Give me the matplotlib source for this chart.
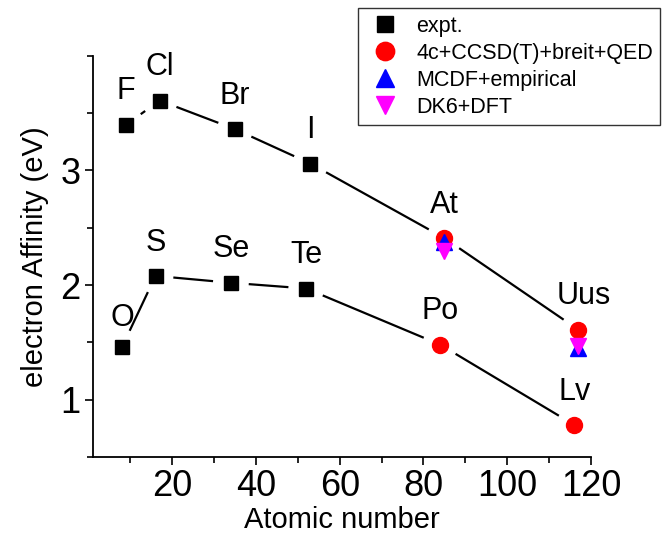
import numpy as np
import matplotlib.pyplot as plt
from matplotlib.ticker import MultipleLocator

plt.rcParams['font.family'] = ['Liberation Sans', 'DejaVu Sans']

# halogens (group 17)
hal_names = ['F', 'Cl', 'Br', 'I', 'At', 'Uus']
hal_z = [9, 17, 35, 53, 85, 117]
hal_ea = [3.40, 3.61, 3.36, 3.06, 2.41, 1.61]

# chalcogens (group 16)
chal_names = ['O', 'S', 'Se', 'Te', 'Po', 'Lv']
chal_z = [8, 16, 34, 52, 84, 116]
chal_ea = [1.46, 2.08, 2.02, 1.97, 1.48, 0.78]

# expt. points
expt_z = [9, 17, 35, 53, 8, 16, 34, 52]
expt_ea = [3.40, 3.61, 3.36, 3.06, 1.46, 2.08, 2.02, 1.97]

# 4c+CCSD(T)+breit+QED
cc_z = [85, 117, 84, 116]
cc_ea = [2.41, 1.61, 1.48, 0.78]

# MCDF+empirical
mcdf_z = [85, 117]
mcdf_ea = [2.38, 1.45]

# DK6+DFT
dk_z = [85, 117]
dk_ea = [2.30, 1.47]

fig = plt.figure(figsize=(6.67, 5.37), dpi=100)
ax = fig.add_axes([0.139, 0.149, 0.747, 0.747])
ax.set_xlim(1, 120)
ax.set_ylim(0.5, 4.0)

# connecting lines with a gap around each symbol (Origin style)
gap = 19  # pixels
fig.canvas.draw()
for zs, eas in [(hal_z, hal_ea), (chal_z, chal_ea)]:
    pts = ax.transData.transform(np.column_stack([zs, eas]))
    for p1, p2 in zip(pts[:-1], pts[1:]):
        d = p2 - p1
        L = np.hypot(*d)
        a = p1 + d * gap / L
        b = p2 - d * gap / L
        seg = ax.transData.inverted().transform(np.array([a, b]))
        ax.plot(seg[:, 0], seg[:, 1], color='black', lw=1.6, zorder=1)

ax.plot(expt_z, expt_ea, 's', color='black', ms=10, ls='none', label='expt.', zorder=3)
ax.plot(cc_z, cc_ea, 'o', color='red', ms=11.5, ls='none', label='4c+CCSD(T)+breit+QED', zorder=3)
ax.plot(mcdf_z, mcdf_ea, '^', color='blue', ms=11, ls='none', label='MCDF+empirical', zorder=4)
ax.plot(dk_z, dk_ea, 'v', color='magenta', ms=11, ls='none', label='DK6+DFT', zorder=5)

# element labels above each point
for names, zs, eas in [(hal_names, hal_z, hal_ea), (chal_names, chal_z, chal_ea)]:
    for nm, z, ea in zip(names, zs, eas):
        dx = 4 if nm == 'Uus' else 0
        dy = 21 if nm == 'O' else 24
        ax.annotate(nm, (z, ea), xytext=(dx, dy), textcoords='offset points',
                    ha='center', va='center', fontsize=22)

ax.spines['top'].set_visible(False)
ax.spines['right'].set_visible(False)
ax.spines['left'].set_linewidth(1.3)
ax.spines['bottom'].set_linewidth(1.3)

ax.xaxis.set_major_locator(MultipleLocator(20))
ax.xaxis.set_minor_locator(MultipleLocator(10))
ax.yaxis.set_minor_locator(MultipleLocator(0.5))
ax.set_xticks([20, 40, 60, 80, 100, 120])
ax.set_yticks([1, 2, 3])
ax.tick_params(which='major', length=6, width=1.2, labelsize=26, direction='out', pad=3)
ax.tick_params(which='minor', length=4, width=1.2, direction='out')

ax.set_xlabel('Atomic number', fontsize=21, labelpad=1)
ax.set_ylabel('electron Affinity (eV)', fontsize=21, labelpad=8)

leg = fig.legend(loc='upper left', bbox_to_anchor=(358 / 667, 1 - 8 / 537),
                 fontsize=15.5, frameon=True, fancybox=False, borderaxespad=0,
                 handletextpad=0.55, handlelength=1.8, labelspacing=0.28,
                 borderpad=0.35, markerscale=1.15)
leg.get_frame().set_edgecolor('black')
leg.get_frame().set_linewidth(1.0)

fig.savefig('out.png', dpi=100)
